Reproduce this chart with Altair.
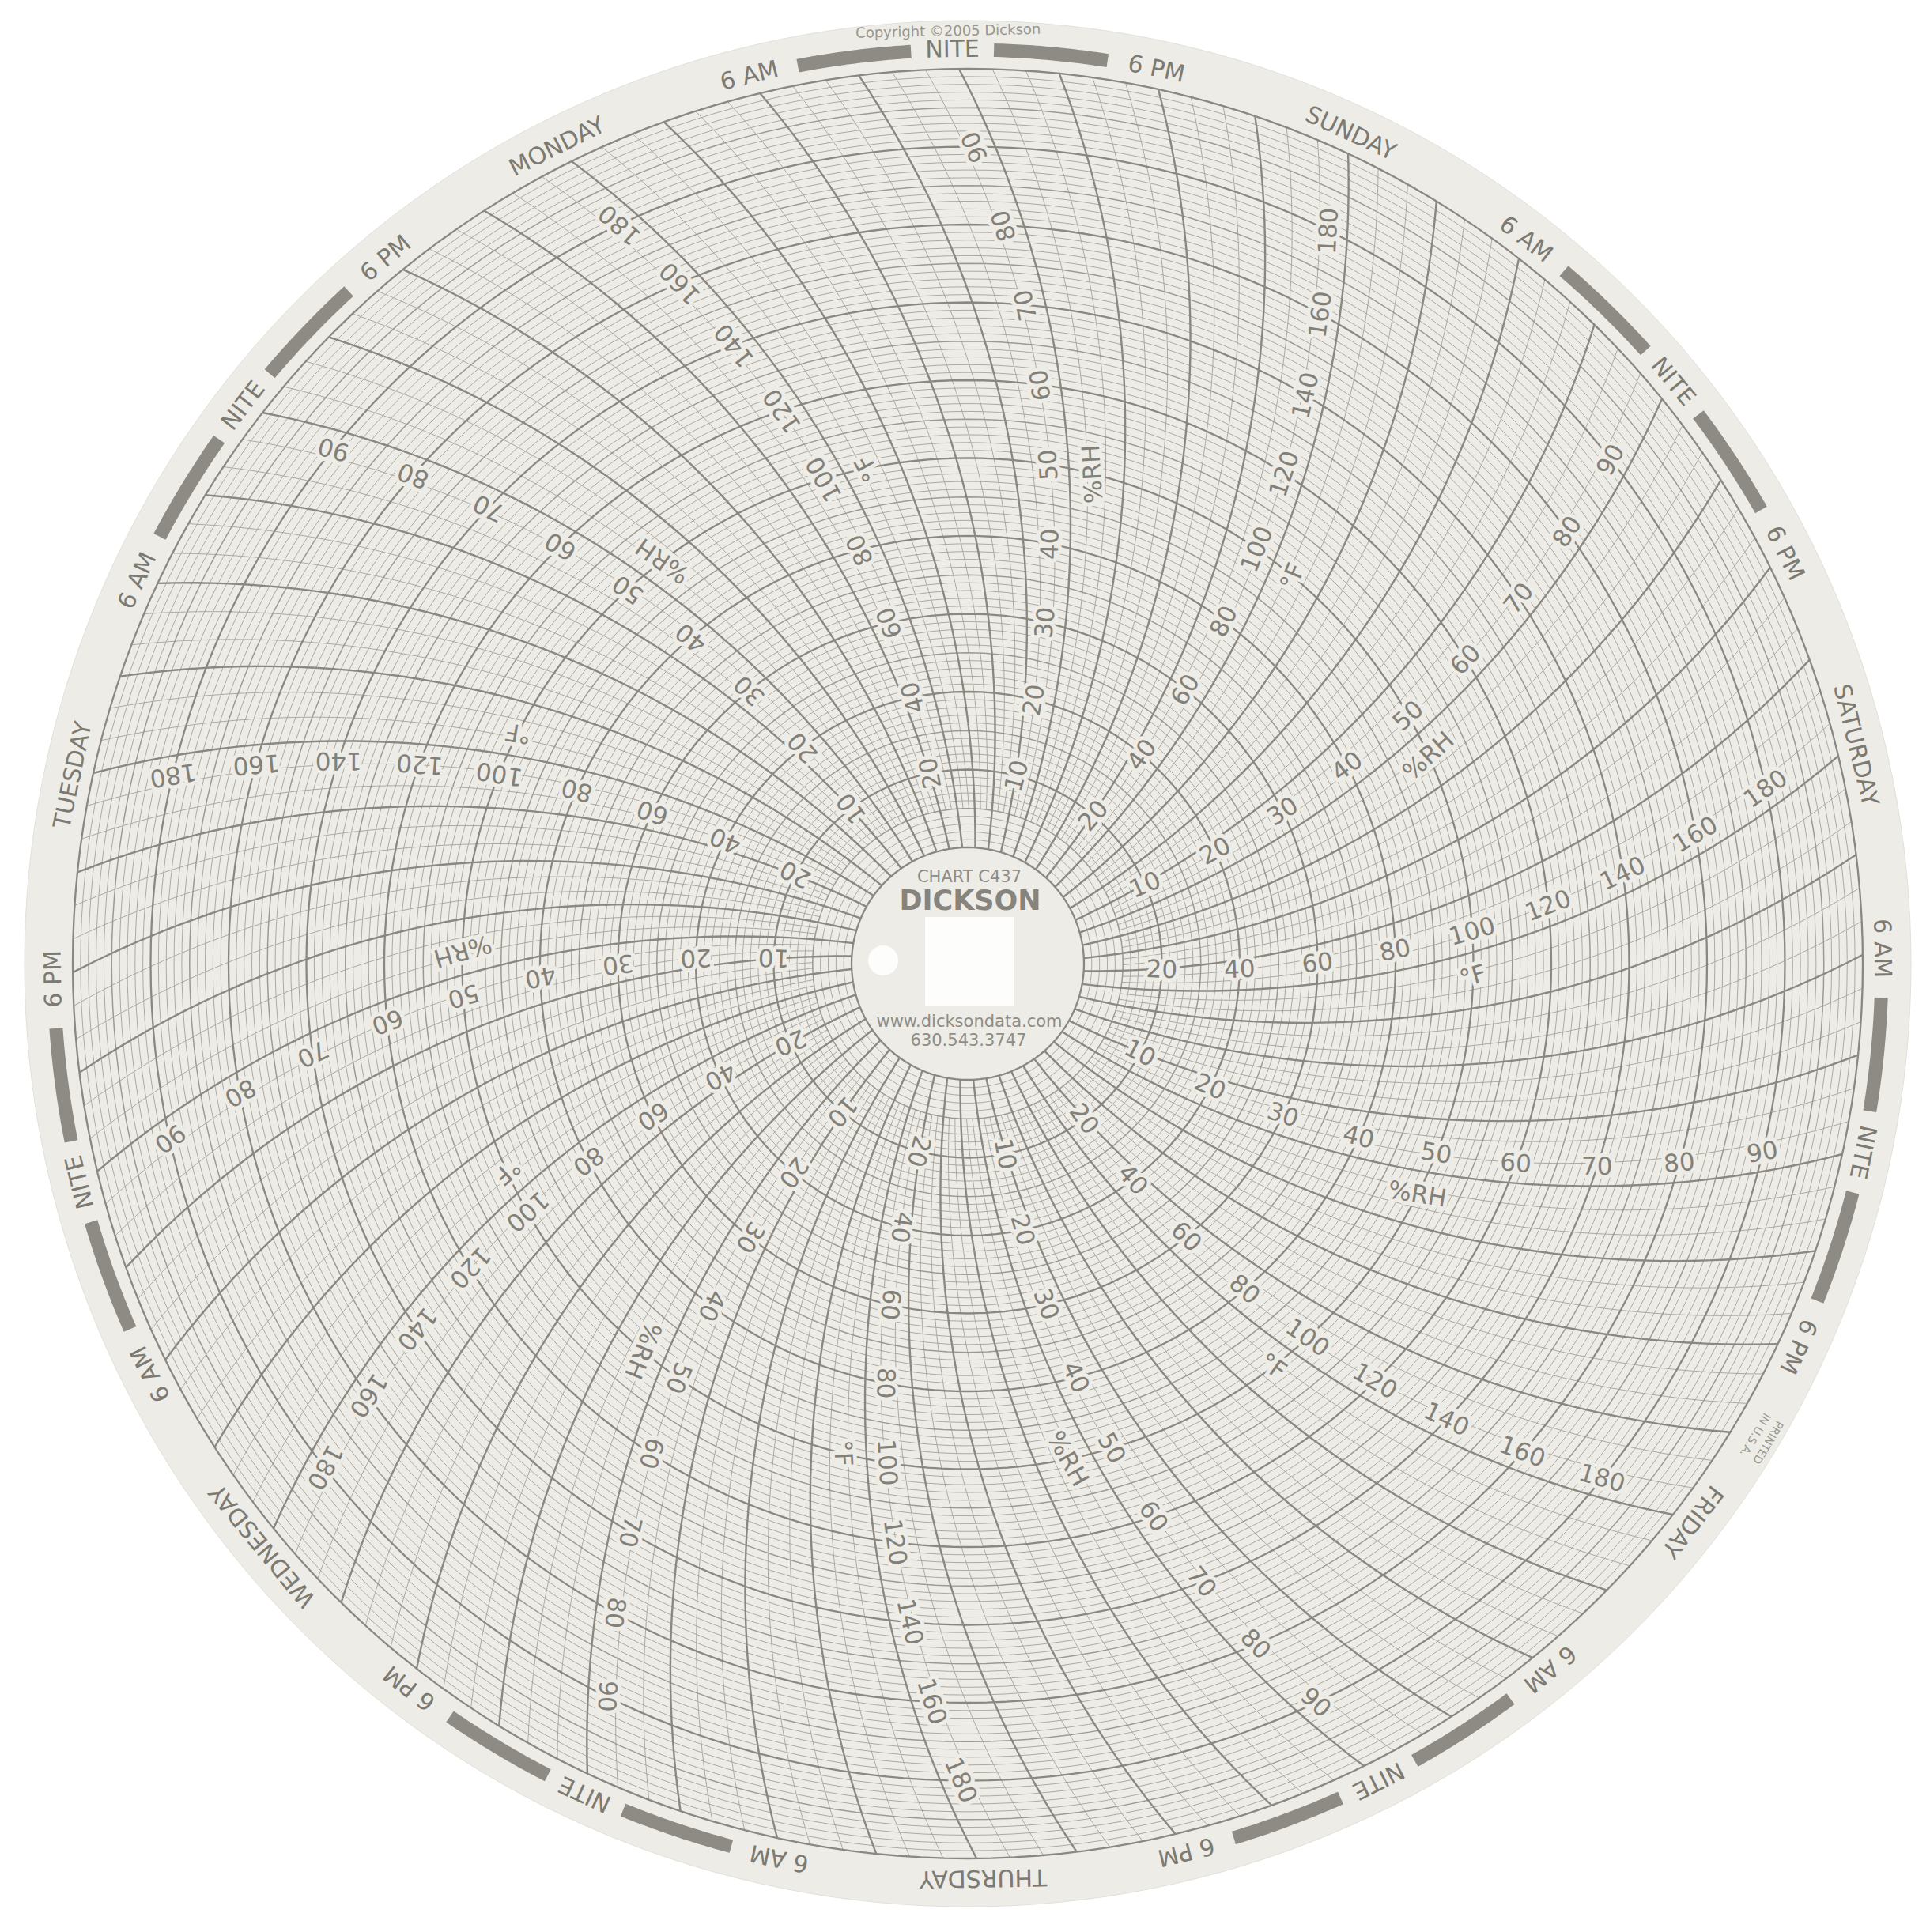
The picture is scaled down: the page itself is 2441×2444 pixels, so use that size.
import math
import pandas as pd
import altair as alt

alt.data_transformers.disable_max_rows()

# ---------------- data ----------------
DAYS = ["MONDAY", "TUESDAY", "WEDNESDAY", "THURSDAY", "FRIDAY", "SATURDAY", "SUNDAY"]
HOURS = list(range(168))                 # one time line per hour, 7 days
TEMP_STEPS = list(range(0, 201, 2))      # concentric circles, 0..200 °F every 2 °F
F_LABELS = [20, 40, 60, 80, 100, 120, 140, 160, 180]
RH_LABELS = [10, 20, 30, 40, 50, 60, 70, 80, 90]
RING_TIMES = list(range(0, 168, 6))      # NITE / 6 AM / day / 6 PM
NIGHTS = [0, 24, 48, 72, 96, 120, 144]
HUB_LINES = ["CHART C437", "DICKSON", "www.dicksondata.com", "630.543.3747"]
COPYRIGHT = "Copyright \u00a92005 Dickson"
PRINTED = ["PRINTED", "IN U.S.A."]

# ---------------- geometry / style ----------------
W, H = 2420, 2424
CX, CY = 1216.0, H - 1211.0
R0, R_OUT = 147.0, 1132.0
R_DISC = 1193.0
R_RING = 1156.0
ARM = 1250.0
STEP = 360.0 / 168
PSI0 = 153.64
RING0 = 90.96
LABEL_OFF = 25.0
UNIT_OFF = 32.0

PAPER = "#edece6"
LINE_BOLD = "#8a8880"
LINE_MED = "#9c9a92"
LINE_FINE = "#aba9a1"
TEXT = "#828078"
BAR = "#8d8b83"
FONT = "DejaVu Sans"


def r_of(temp):
    return R0 + (R_OUT - R0) * temp / 200.0


def pen_theta(t, r):
    return PSI0 + STEP * t - math.degrees(math.acos(r / (2 * ARM)))


def to_xy(r, th):
    a = math.radians(th)
    return CX + r * math.cos(a), CY + r * math.sin(a)


def tangent(t, r):
    x1, y1 = to_xy(r - 1, pen_theta(t, r - 1))
    x2, y2 = to_xy(r + 1, pen_theta(t, r + 1))
    return math.degrees(math.atan2(y2 - y1, x2 - x1))


XS = alt.Scale(domain=[0, W], nice=False, zero=False)
YS = alt.Scale(domain=[0, H], nice=False, zero=False)


def pos():
    return dict(x=alt.X("x:Q", scale=XS, axis=None), y=alt.Y("y:Q", scale=YS, axis=None))


# ---------------- tables ----------------
center_df = pd.DataFrame({"x": [CX], "y": [CY]})

crow = []
for temp in TEMP_STEPS:
    kind = "bold" if temp % 20 == 0 else ("med" if temp % 10 == 0 else "fine")
    r = r_of(temp)
    n = 240 if r > 500 else 120
    for i in range(n + 1):
        x, y = to_xy(r, 360.0 * i / n)
        crow.append({"id": temp, "i": i, "x": round(x, 2), "y": round(y, 2), "kind": kind})
circ_df = pd.DataFrame(crow)

rows = []
for h in HOURS:
    bold = h % 3 == 0
    rs = R0 if bold else r_of(10)
    n = 48
    for i in range(n + 1):
        r = rs + (R_OUT - rs) * i / n
        x, y = to_xy(r, pen_theta(h, r))
        rows.append({"id": h, "i": i, "x": round(x, 2), "y": round(y, 2),
                     "kind": "bold" if bold else "fine"})
time_df = pd.DataFrame(rows)

lab = []
for k in range(7):
    for kind, t in (("RH", 24 * k), ("F", 24 * k + 12)):
        vals = RH_LABELS if kind == "RH" else F_LABELS
        for v in vals:
            temp = 2 * v if kind == "RH" else v
            r = r_of(temp)
            th = pen_theta(t, r) + math.degrees(LABEL_OFF / r)
            x, y = to_xy(r, th)
            lab.append({"x": x, "y": y, "text": str(v), "rot": (-tangent(t, r)) % 360})
        r = r_of(100)
        th = pen_theta(t, r) - math.degrees(UNIT_OFF / r)
        x, y = to_xy(r, th)
        lab.append({"x": x, "y": y, "text": "%RH" if kind == "RH" else "\u00b0F",
                    "rot": (-tangent(t, r)) % 360})
lab_df = pd.DataFrame(lab)

ring = []
for t in RING_TIMES:
    m = t % 24
    txt = {0: "NITE", 6: "6 AM", 12: DAYS[t // 24], 18: "6 PM"}[m]
    th = RING0 + STEP * t
    x, y = to_xy(R_RING, th)
    ring.append({"x": x, "y": y, "text": txt, "rot": (90 - th) % 360})
ring_df = pd.DataFrame(ring)

bars = []
bid = 0
for nt in NIGHTS:
    a = RING0 + STEP * nt
    for a1, a2 in ((a - STEP * 6 + 3.1, a - 2.6), (a + 2.6, a + STEP * 6 - 3.1)):
        for i in range(31):
            th = a1 + (a2 - a1) * i / 30
            x, y = to_xy(R_RING, th)
            bars.append({"id": bid, "i": i, "x": x, "y": y})
        bid += 1
bar_df = pd.DataFrame(bars)

small = []
x, y = to_xy(1179, 91.2)
small.append({"x": x, "y": y, "text": COPYRIGHT, "rot": (90 - 91.2) % 360, "size": 18})
for txt, rr in zip(PRINTED, (1179, 1160)):
    x, y = to_xy(rr, -30.9)
    small.append({"x": x, "y": y, "text": txt, "rot": (90 + 30.9) % 360, "size": 14})
small_df = pd.DataFrame(small)

hub_df = pd.DataFrame({
    "x": [CX + 2, CX + 3, CX + 2, CX + 1],
    "y": [CY + 109, CY + 79, CY - 74, CY - 98],
    "text": HUB_LINES,
})

# ---------------- layers ----------------
disc = alt.Chart(center_df).mark_arc(theta=0, theta2=6.2832, radius=R_DISC, fill=PAPER,
                                     stroke="#e2e0d9", strokeWidth=1).encode(**pos())


def line_layer(df, kind, color, width):
    return alt.Chart(df).transform_filter(alt.datum.kind == kind).mark_line(
        color=color, strokeWidth=width
    ).encode(detail="id:N", order="i:Q", **pos())


halo = alt.Chart(lab_df).mark_text(font=FONT, fontSize=31, align="center", baseline="middle",
                                   fill=PAPER, stroke=PAPER, strokeWidth=10, strokeJoin="round").encode(
    text="text:N", angle=alt.Angle("rot:Q", scale=None), **pos())
labels = alt.Chart(lab_df).mark_text(font=FONT, fontSize=31, align="center", baseline="middle",
                                     color=TEXT).encode(
    text="text:N", angle=alt.Angle("rot:Q", scale=None), **pos())

bar_layer = alt.Chart(bar_df).mark_line(color=BAR, strokeWidth=17, strokeCap="butt").encode(
    detail="id:N", order="i:Q", **pos())

ring_layer = alt.Chart(ring_df).mark_text(font=FONT, fontSize=30, align="center", baseline="middle",
                                          color="#7c7a72").encode(
    text="text:N", angle=alt.Angle("rot:Q", scale=None), **pos())

small_layer = alt.Chart(small_df).mark_text(font=FONT, align="center", baseline="middle",
                                            color="#99978f").encode(
    text="text:N", angle=alt.Angle("rot:Q", scale=None),
    size=alt.Size("size:Q", scale=None), **pos())

square_hole = alt.Chart(pd.DataFrame({"x": [CX + 2], "y": [CY + 3]})).mark_point(
    shape="square", filled=True, size=112 * 112, color="#fdfdfc", opacity=1).encode(**pos())
round_hole = alt.Chart(pd.DataFrame({"x": [CX - 107], "y": [CY + 4]})).mark_point(
    shape="circle", filled=True, size=38 * 38, color="#fdfdfc", opacity=1).encode(**pos())

hub_plain = alt.Chart(hub_df).transform_filter(alt.datum.text != "DICKSON").mark_text(
    font=FONT, fontSize=21, align="center", baseline="middle", color="#8f8d86").encode(
    text="text:N", **pos())
hub_brand = alt.Chart(hub_df).transform_filter(alt.datum.text == "DICKSON").mark_text(
    font=FONT, fontSize=35, fontWeight="bold", align="center", baseline="middle",
    color="#86847c").encode(text="text:N", **pos())

chart = alt.layer(
    disc,
    line_layer(circ_df, "fine", LINE_FINE, 1.0),
    line_layer(time_df, "fine", LINE_FINE, 1.0),
    line_layer(circ_df, "med", LINE_MED, 1.5),
    line_layer(circ_df, "bold", LINE_BOLD, 2.3),
    line_layer(time_df, "bold", LINE_BOLD, 2.4),
    halo, labels,
    bar_layer, ring_layer, small_layer,
    square_hole, round_hole, hub_plain, hub_brand,
).properties(
    width=W, height=H, padding=0, background="white",
    autosize=alt.AutoSizeParams(type="none"),
).configure_view(stroke=None)

chart.save("out.html", embed_options={"renderer": "svg", "actions": False})
